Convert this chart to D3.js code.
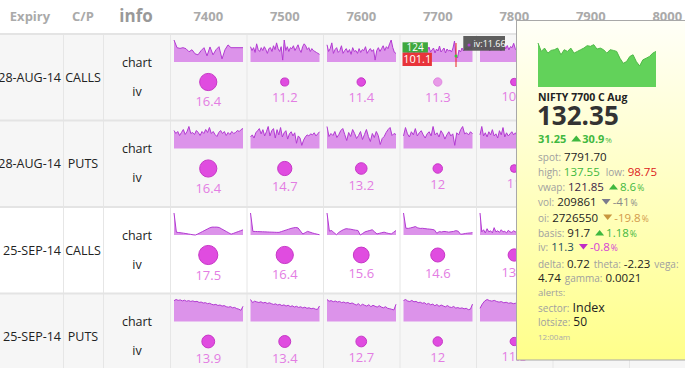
<!DOCTYPE html>
<html><head><meta charset="utf-8">
<script src="https://cdn.jsdelivr.net/npm/d3@7/dist/d3.min.js"></script>
<style>
html,body{margin:0;padding:0;background:#fff;overflow:hidden;}
svg{display:block;font-family:"Open Sans",sans-serif;}
</style></head><body>
<svg id="c" width="685" height="368"></svg>
<script>
// ---------- data ----------
const strikes = ["7400","7500","7600","7700","7800","7900","8000"];
const expiries = ["28-AUG-14","28-AUG-14","25-SEP-14","25-SEP-14"];
const optTypes = ["CALLS","PUTS","CALLS","PUTS"];
const headers = ["Expiry","C/P","info"];

const ivAugCalls = [16.4, 11.2, 11.4, 11.3, 10.8];
const ivAugPuts  = [16.4, 14.7, 13.2, 12, 11];
const ivSepCalls = [17.5, 16.4, 15.6, 14.6, 13.6];
const ivSepPuts  = [13.9, 13.4, 12.7, 12, 11.3];

const sparkAugCalls = [
  [21.5,14,13.3,14,13,10,12,8,7,11,14,6,14.7,7,12,15,3,12,16.7,14,14,14,14,14],
  [16,12,15,10,19,13,11,15,12,16,13,9,14,15,11,17,13,20,14,11,16,2,23,12,16,11,15,14,17,12,15,18,13,10,16,19,17,13,15,11,14,12,11,10,9,8],
  [18,11,14,20,9,13,15,10,12,17,9,12,14,10,13,8,15,11,12,9,14,10,13,12,16,9,12,14,11,13,2,12,15,11,14,17,12,16,14,19,23,15,10,9],
  [13,10,15,9,12,11,14,8,13,10,12,9,14,11,10,13,12,15,10,12,14,9,13,11,16,10,12,14,9,13,11,12,10,14,21,6,4,12,10,14,11,13,15,12,16,13,22],
  [14,18,11,15,12,16,10,13,15,11,17,12,14,10,13,16,12,15,11,14,13,17,12,10,15,13,11,14,16,12,15,13,11,14,12,16,13,15,12,14,20,13,11,12]
];
const sparkAugPuts = [
  [18,15,17,13,16,19,14,17,22,15,16,14,18,16,13,17,15,19,16,21,15,17,14,12,16,18,15,17,13,16,14,17,15,16,18,17,19,20],
  [11,13,10,15,17,19,14,18,12,16,21,12,17,19,10,18,13,20,11,15,17,9,14,16,12,15,5,12,10,3,8,11,13,12,14,13,15,12,14,16],
  [22,12,15,13,17,11,14,18,20,14,8,16,12,19,15,10,13,17,9,14,19,12,7,15,11,17,13,4,10,12,16,19,21,13,15,14],
  [12,20,14,11,16,13,19,12,15,17,13,10,14,16,12,21,13,15,11,17,14,9,13,16,12,14,3,15,13,18,21,14,15,13,16,14],
  [13,21,12,15,11,16,13,18,12,14,10,17,13,20,11,15,12,14,16,13,15,12,17,11,14,13,16,12,15,10,14,13,17,12,15,13,16,14,12,15]
];
const sparkSepCalls = [
  [21.5,2.7,2.4,2.1,1.8,1.4,1,0.6,0.2,0,1,2.2,3.4,4.6,5.8,7,7.7,7.7,7.7,7.3,6,4.7,3.4,2.1,0.8,1.6,2.5,3.3,4.2,5],
  [22.5,3.7,3.6,3.5,3.4,3.3,3.2,3.1,3,2.9,2.8,2.7,2.7,3.5,4.3,5.1,5.9,6.7,7.3,7.7,7.2,4,1,2.4,3.7,2.9,2.1,1.4,0.8,0.3],
  [21,3.7,4.3,2,0.3,2.5,4,5.2,6,5.8,5.5,5,4.6,4.3,0,1.5,3,3.7,4.3,5,3,1,1.6,2.2,2.7,2,1.4,1,2.6,4.3],
  [21.7,6.7,6.5,7,7.6,8.3,7,6.5,6.6,6.3,6,5.8,5.5,5,1.7,3.3,3,3.5,3.3,2.8,3.2,3.5,4.3,3.7,0.7,1,1.5,1.8,2,2.3],
  [21,3,5,2,6,3,4,2,7,3,4,2.5,5,3,3.5,2,4.5,3,2.5,4,3,3.5,2,3,4,2.5,3,5,2,3.5,3,2.5,4,3,2,3,2.5,3.5,2,3]
];
const sparkSepPuts = [
  [20.5,21.7,20.8,21.3,20.3,21,20,20.6,19.8,20.3,19.5,19.9,18.8,19.2,18.2,18.6,17.6,18,17,16.4,16.9,15.8,16.3,15.2,15.7,14.6,14.1,14.7,13.5,13.9,12.7,12.2,11,15],
  [22.7,19.5,21,20.2,19.6,20.4,19,19.8,18.6,19.3,18.4,17.6,18.2,17,17.7,16.4,17.2,15.9,16.8,15.4,16.2,14.9,15.7,14.5,15.2,14,14.8,13.6,14.2,13.2,13.7,12.8,12.4,16],
  [21.7,20,20.6,19.5,20.2,19.2,19.8,18.6,19.2,18.2,18.8,17.6,18.3,17.2,16.2,17.6,15.6,17,16,15.2,16.6,14.6,16,15,14.2,15.6,14.2,13.5,14.6,13,12.6,12,11.4,17],
  [20.5,21.5,20,19.5,20.6,19.2,19.7,18.4,18.9,17.8,18.4,16.8,17.7,16.3,17,15.4,16.6,14.8,16.1,15.2,14.3,15.6,14.2,13.7,14.7,13.1,13.6,12.8,13.3,12.4,12.9,11.6,12,17],
  [12,16,18.7,20,19,18.5,19.2,18.2,17.6,18.1,17,17.5,16.6,17,16.2,16.6,15.8,16.3,15.4,15.8,15,15.5,14.6,15,14.2,14.6,13.8,14.2,13.5,16]
];

// hover state on 28-AUG-14 CALLS 7700
const hoverRow = 0, hoverCol = 3, hoverIndex = 35;
const hoverHigh = "124", hoverLow = "101.1", hoverIv = "iv:11.66";

// tooltip data
const tipSpark = [43.3,35,38.3,33.3,36,36.7,38.3,31.7,36.7,35,38.3,33.3,35,36.7,38.3,40.7,40,41.7,37.3,38.3,36.7,33.3,36.7,36,35,28.3,23.3,25,30,31.7,25,20.7,26.7,28.3,30,33.3,35];
const tipTitle = "NIFTY 7700 C Aug";
const tipPrice = "132.35";
const tipChange = "31.25", tipChangePct = "30.9";
const tipSpot = "7791.70", tipHigh = "137.55", tipLow = "98.75";
const tipVwap = "121.85", tipVwapPct = "8.6";
const tipVol = "209861", tipVolPct = "-41";
const tipOi = "2726550", tipOiPct = "-19.8";
const tipBasis = "91.7", tipBasisPct = "1.18";
const tipIv = "11.3", tipIvPct = "-0.8";
const tipDelta = "0.72", tipTheta = "-2.23", tipVega = "4.74", tipGamma = "0.0021";
const tipSector = "Index", tipLot = "50", tipTime = "12:00am";

// ---------- layout ----------
const ivRows = [ivAugCalls, ivAugPuts, ivSepCalls, ivSepPuts];
const sparkRows = [sparkAugCalls, sparkAugPuts, sparkSepCalls, sparkSepPuts];
const svg = d3.select("#c");
const colX = d3.scaleBand().domain(strikes).range([170, 170 + 76.5 * strikes.length]);
const rowY = d3.scaleBand().domain(d3.range(4)).range([34, 34 + 86.5 * 4]);
const rScale = d3.scaleLinear().domain([10, 18]).range([3, 10]);
const rowFill = ["#f6f6f6", "#f6f6f6", "#ffffff", "#f6f6f6"];

// row backgrounds
svg.selectAll("rect.row").data(d3.range(4)).join("rect")
  .attr("x", 0).attr("y", d => rowY(d)).attr("width", 685).attr("height", rowY.bandwidth())
  .attr("fill", d => rowFill[d]);

// grid
const vlines = [63, 103].concat(strikes.map(s => colX(s)));
svg.selectAll("line.v").data(vlines).join("line")
  .attr("x1", d => d + 0.5).attr("x2", d => d + 0.5).attr("y1", 35).attr("y2", 368)
  .attr("stroke", "#e6e6e6");
svg.selectAll("line.h").data(d3.range(5)).join("line")
  .attr("x1", 0).attr("x2", 685)
  .attr("y1", d => 34 + 86.5 * d).attr("y2", d => 34 + 86.5 * d)
  .attr("stroke", "#e4e4e4").attr("stroke-width", 2);

// header
const hdr = svg.append("g").attr("font-weight", "bold").attr("fill", "#aaaaaa");
hdr.append("text").attr("x", 30).attr("y", 21).attr("text-anchor", "middle").attr("font-size", 13).text(headers[0]);
hdr.append("text").attr("x", 83).attr("y", 21).attr("text-anchor", "middle").attr("font-size", 13).text(headers[1]);
hdr.append("text").attr("x", 136).attr("y", 22).attr("text-anchor", "middle").attr("font-size", 17).attr("fill", "#999").text(headers[2]);
hdr.selectAll("text.s").data(strikes).join("text")
  .attr("x", d => colX(d) + colX.bandwidth() / 2).attr("y", 21).attr("text-anchor", "middle")
  .attr("font-size", 13).text(d => d);

// left columns
const body = svg.append("g").attr("font-size", 12.5).attr("fill", "#222");
d3.range(4).forEach(r => {
  const y0 = rowY(r);
  body.append("text").attr("x", 61).attr("y", y0 + 47.5).attr("text-anchor", "end").text(expiries[r]);
  body.append("text").attr("x", 83).attr("y", y0 + 47.5).attr("text-anchor", "middle").text(optTypes[r]);
  body.append("text").attr("x", 137).attr("y", y0 + 32.5).attr("text-anchor", "middle").text("chart");
  body.append("text").attr("x", 137).attr("y", y0 + 61.5).attr("text-anchor", "middle").text("iv");
});

// cells
const cells = svg.append("g");
sparkRows.forEach((row, r) => {
  const y0 = rowY(r);
  row.forEach((vals, c) => {
    const x0 = colX(strikes[c]);
    const sx = d3.scaleLinear().domain([0, vals.length - 1]).range([x0 + 4, x0 + 73]);
    const sy = d3.scaleLinear().domain([0, d3.max(vals)]).range([y0 + 28, y0 + 6]);
    cells.append("path").datum(vals)
      .attr("d", d3.area().x((d, i) => sx(i)).y0(y0 + 28).y1(d => sy(d)))
      .attr("fill", "#dc93ea");
    cells.append("path").datum(vals)
      .attr("d", d3.line().x((d, i) => sx(i)).y(d => sy(d)))
      .attr("fill", "none").attr("stroke", "#b23ad2").attr("stroke-width", 1);

    const iv = ivRows[r][c];
    const cx = x0 + colX.bandwidth() / 2, cy = y0 + 48, rr = rScale(iv);
    const hov = (r === hoverRow && c === hoverCol);
    cells.append("circle").attr("cx", cx).attr("cy", cy).attr("r", rr)
      .attr("fill", hov ? "#e89ae8" : "#e04ce0").attr("stroke", hov ? "#e088e0" : "#c637c6").attr("stroke-width", 1);
    cells.append("text").attr("x", cx).attr("y", cy + rr + 15.5).attr("text-anchor", "middle")
      .attr("font-size", 13).attr("fill", "#e37de3").text(iv);

    if (hov) {
      const hx = sx(hoverIndex);
      const g = svg.append("g").attr("class", "hover");
      g.append("line").attr("x1", hx).attr("x2", hx).attr("y1", y0 + 9).attr("y2", y0 + 33)
        .attr("stroke", "#ee2020").attr("stroke-width", 1);
      g.append("circle").attr("cx", hx).attr("cy", sy(vals[hoverIndex])).attr("r", 1.5).attr("fill", "#33cc33");
      g.append("rect").attr("x", x0 + 3).attr("y", y0 + 8.3).attr("width", 25.4).attr("height", 10.4).attr("fill", "#3ea83e");
      g.append("text").attr("x", x0 + 15.7).attr("y", y0 + 17).attr("text-anchor", "middle")
        .attr("font-size", 10).attr("fill", "#fff").text(hoverHigh);
      g.append("rect").attr("x", x0 + 3).attr("y", y0 + 18.7).attr("width", 29.4).attr("height", 13.3).attr("fill", "#e8343a");
      g.append("text").attr("x", x0 + 17.7).attr("y", y0 + 29).attr("text-anchor", "middle")
        .attr("font-size", 11).attr("fill", "#fff").text(hoverLow);
      g.append("rect").attr("x", x0 + 63.8).attr("y", y0 + 2).attr("width", 41.7).attr("height", 14.7).attr("fill", "#555").attr("opacity", 0.95);
      g.append("circle").attr("cx", x0 + 69.5).attr("cy", y0 + 11).attr("r", 1.5).attr("fill", "#b040d0");
      g.append("text").attr("x", x0 + 74).attr("y", y0 + 13).attr("font-size", 9).attr("fill", "#fff").text(hoverIv);
    }
  });
});

// ---------- tooltip ----------
const defs = svg.append("defs");
const grad = defs.append("linearGradient").attr("id", "tipg").attr("x1", 0).attr("y1", 0).attr("x2", 0).attr("y2", 1);
grad.append("stop").attr("offset", "0%").attr("stop-color", "#fffff8");
grad.append("stop").attr("offset", "100%").attr("stop-color", "#ffff8a");
const tip = svg.append("g");
tip.append("rect").attr("x", 516.5).attr("y", 20.5).attr("width", 220).attr("height", 339.5)
  .attr("fill", "url(#tipg)").attr("stroke", "#a8a8a8");

const tx = d3.scaleLinear().domain([0, tipSpark.length - 1]).range([538, 656]);
const ty = d3.scaleLinear().domain([0, d3.max(tipSpark)]).range([87, 43]);
tip.append("path").datum(tipSpark).attr("d", d3.area().x((d, i) => tx(i)).y0(87).y1(d => ty(d))).attr("fill", "#62d25a");
tip.append("path").datum(tipSpark).attr("d", d3.line().x((d, i) => tx(i)).y(d => ty(d))).attr("fill", "none").attr("stroke", "#4fb948");

tip.append("text").attr("x", 538).attr("y", 101).attr("font-size", 10.5).attr("font-weight", "bold").attr("fill", "#222").text(tipTitle);
tip.append("text").attr("x", 537).attr("y", 125).attr("font-size", 26).attr("font-weight", "bold").attr("fill", "#333").text(tipPrice);

const LBL = "#a0a0a0", VAL = "#222", GRN = "#3fb83f", RED = "#dd2020";
function tipLine(yb, segs) {
  let cx = 538;
  segs.forEach(s => {
    if (s.tri) {
      const w = s.w || 9, h = s.h || 5.5, b = yb - 1.5;
      const pts = s.tri === "up" ? [[cx, b], [cx + w, b], [cx + w / 2, b - h]] : [[cx, b - h], [cx + w, b - h], [cx + w / 2, b]];
      tip.append("path").attr("d", d3.line()(pts) + "Z").attr("fill", s.color);
      cx += w + (s.gap == null ? 2 : s.gap);
    } else {
      const t = tip.append("text").attr("x", cx).attr("y", yb).attr("font-size", s.size || 11)
        .attr("fill", s.color).attr("font-weight", s.bold ? "bold" : "normal").text(s.text);
      cx += t.node().getComputedTextLength() + (s.gap == null ? 0 : s.gap);
    }
  });
}
tipLine(143, [{text: tipChange, size: 11, bold: 1, color: GRN, gap: 5}, {tri: "up", color: GRN, w: 10, h: 6, gap: 1},
  {text: tipChangePct, size: 11, bold: 1, color: GRN, gap: 1}, {text: "%", size: 8, color: GRN}]);
tipLine(160.5, [{text: "spot:", size: 10, color: LBL, gap: 3}, {text: tipSpot, size: 11.5, color: VAL}]);
tipLine(176, [{text: "high:", size: 10, color: LBL, gap: 3}, {text: tipHigh, size: 11.5, color: GRN, gap: 6},
  {text: "low:", size: 10, color: LBL, gap: 3}, {text: tipLow, size: 11.5, color: RED}]);
tipLine(191, [{text: "vwap:", size: 10, color: LBL, gap: 3}, {text: tipVwap, size: 11.5, color: "#3c1e46", gap: 5},
  {tri: "up", color: GRN, gap: 2}, {text: tipVwapPct, size: 11.5, color: GRN, gap: 1}, {text: "%", size: 8.5, color: GRN}]);
tipLine(206, [{text: "vol:", size: 10, color: LBL, gap: 3}, {text: tipVol, size: 11.5, color: VAL, gap: 5},
  {tri: "down", color: "#7b7b8c", gap: 2}, {text: tipVolPct, size: 11.5, color: "#8a8a8a", gap: 1}, {text: "%", size: 8.5, color: "#8a8a8a"}]);
tipLine(221.5, [{text: "oi:", size: 10, color: LBL, gap: 3}, {text: tipOi, size: 11.5, color: VAL, gap: 5},
  {tri: "down", color: "#c8963e", gap: 2}, {text: tipOiPct, size: 11.5, color: "#d29a4a", gap: 1}, {text: "%", size: 8.5, color: "#d29a4a"}]);
tipLine(237, [{text: "basis:", size: 10, color: LBL, gap: 3}, {text: tipBasis, size: 11.5, color: VAL, gap: 5},
  {tri: "up", color: GRN, gap: 2}, {text: tipBasisPct, size: 11.5, color: GRN, gap: 1}, {text: "%", size: 8.5, color: GRN}]);
tipLine(251, [{text: "iv:", size: 10, color: LBL, gap: 3}, {text: tipIv, size: 11.5, color: "#1f4f5c", gap: 5},
  {tri: "down", color: "#c02cc6", gap: 2}, {text: tipIvPct, size: 11.5, color: "#d442d4", gap: 1}, {text: "%", size: 8.5, color: "#d442d4"}]);
tipLine(267.5, [{text: "delta:", size: 10, color: LBL, gap: 3}, {text: tipDelta, size: 11.5, color: VAL, gap: 4},
  {text: "theta:", size: 10, color: LBL, gap: 3}, {text: tipTheta, size: 11.5, color: VAL, gap: 4},
  {text: "vega:", size: 10, color: LBL}]);
tipLine(282, [{text: tipVega, size: 11.5, color: VAL, gap: 4}, {text: "gamma:", size: 10, color: LBL, gap: 3},
  {text: tipGamma, size: 11.5, color: VAL}]);
tipLine(295.5, [{text: "alerts:", size: 9.5, color: LBL}]);
tipLine(311.5, [{text: "sector:", size: 10, color: LBL, gap: 3}, {text: tipSector, size: 12.5, color: VAL}]);
tipLine(326, [{text: "lotsize:", size: 10, color: LBL, gap: 3}, {text: tipLot, size: 12, color: VAL}]);
tipLine(339.5, [{text: tipTime, size: 8, color: "#aaa"}]);
</script>
</body></html>
